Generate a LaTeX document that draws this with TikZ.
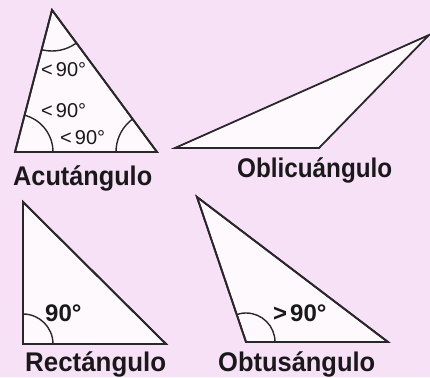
\documentclass[tikz,border=0pt]{standalone}
\usepackage{fontspec}
\usepackage{graphicx}
\setmainfont{Liberation Sans}
\definecolor{bgpink}{RGB}{247,225,247}
\definecolor{trifill}{RGB}{253,249,253}
\definecolor{edge}{RGB}{40,40,40}
\definecolor{txt}{RGB}{25,25,25}
\begin{document}
\begin{tikzpicture}[x=1pt,y=-1pt,
  tri/.style={draw=edge,line width=1.8pt,fill=trifill,line join=miter},
  arcline/.style={draw=edge,line width=1.4pt},
  anglabel/.style={inner sep=0pt,anchor=base west,text=txt,font=\fontsize{20}{20}\selectfont},
  anglabelb/.style={inner sep=0pt,anchor=base west,text=txt,font=\fontsize{24}{24}\selectfont\bfseries},
  trilabel/.style={inner sep=0pt,anchor=base west,text=txt,font=\fontsize{27}{27}\selectfont\bfseries}]
\fill[bgpink] (0,0) rectangle (430,377);
\useasboundingbox (0,0) rectangle (430,377);
% acute
\coordinate (a1) at (52,10);
\coordinate (a2) at (15,152);
\coordinate (a3) at (157,152);
\draw[tri] (a1) -- (a2) -- (a3) -- cycle;
\begin{scope}
\clip (a1) -- (a2) -- (a3) -- cycle;
\draw[arcline] (a1) circle (41);
\draw[arcline] (a2) circle (38);
\draw[arcline] (a3) circle (41);
\end{scope}
\draw[tri,fill=none] (a1) -- (a2) -- (a3) -- cycle;
\node[anglabel] (l1) at (41,77) {<\hspace{3pt}90°};
\node[anglabel] (l2) at (41,117) {<\hspace{3pt}90°};
\node[anglabel] (l3) at (60,144) {<\hspace{3pt}90°};
\node[trilabel] (n1) at (13,185) {\resizebox{139pt}{\height}{Acutángulo}};
% oblique
\coordinate (b1) at (175,148);
\coordinate (b2) at (319,148);
\coordinate (b3) at (429,35);
\draw[tri] (b1) -- (b2) -- (b3) -- cycle;
\node[trilabel] (n2) at (237,177) {\resizebox{155pt}{\height}{Oblicuángulo}};
% right
\coordinate (c1) at (23,202);
\coordinate (c2) at (23,344);
\coordinate (c3) at (166,344);
\draw[tri] (c1) -- (c2) -- (c3) -- cycle;
\begin{scope}
\clip (c1) -- (c2) -- (c3) -- cycle;
\draw[arcline] (c2) circle (30);
\end{scope}
\draw[tri,fill=none] (c1) -- (c2) -- (c3) -- cycle;
\node[anglabelb] (l4) at (45,321) {90°};
\node[trilabel] (n3) at (25,371) {\resizebox{141pt}{\height}{Rectángulo}};
% obtuse
\coordinate (d1) at (197,197);
\coordinate (d2) at (246,342);
\coordinate (d3) at (388,342);
\draw[tri] (d1) -- (d2) -- (d3) -- cycle;
\begin{scope}
\clip (d1) -- (d2) -- (d3) -- cycle;
\draw[arcline] (d2) circle (29);
\end{scope}
\draw[tri,fill=none] (d1) -- (d2) -- (d3) -- cycle;
\node[anglabelb] (l5) at (273,321) {>\hspace{3pt}90°};
\node[trilabel] (n4) at (218,371) {\resizebox{157pt}{\height}{Obtusángulo}};
\end{tikzpicture}
\end{document}
